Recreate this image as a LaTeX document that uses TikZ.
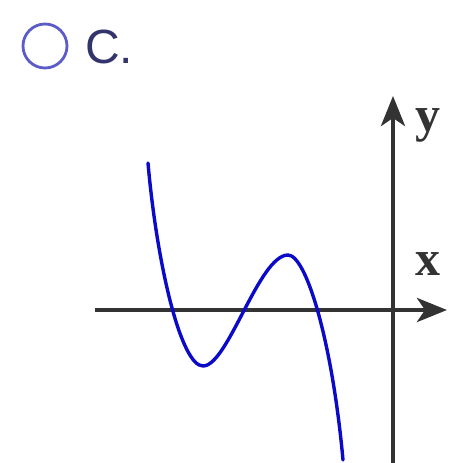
\documentclass[tikz,border=0pt]{standalone}
\usepackage{fontspec}
\setmainfont{Liberation Serif}
\newfontfamily\labelsans{Liberation Sans}
\usetikzlibrary{arrows.meta}
\definecolor{axisgray}{HTML}{333333}
\definecolor{curveblue}{HTML}{0A0AC8}
\definecolor{ringblue}{HTML}{5C5CC8}
\definecolor{letterblue}{HTML}{33336E}
\tikzset{
  axisline/.style={draw=axisgray,line width=4.5pt,-{Stealth[length=30pt,width=24pt,inset=8pt]}},
  curveline/.style={draw=curveblue,line width=3.4pt,line cap=round,line join=round},
  axislabel/.style={font=\fontsize{50}{50}\selectfont\bfseries,text=axisgray,inner sep=0pt,anchor=base},
}
\begin{document}
\begin{tikzpicture}[x=1pt,y=-1pt]
\useasboundingbox (0,0) rectangle (454,463);
% option marker
\node (ring) [circle,draw=ringblue,line width=2.8pt,minimum size=44pt,inner sep=0pt] at (45,46) {};
\node (opt) [anchor=base west,inner sep=0pt,text=letterblue,font=\fontsize{48}{48}\selectfont\labelsans] at (85,63) {C.};
% axes
\coordinate (xs) at (95,310);
\coordinate (xe) at (447,310);
\coordinate (ys) at (393,463);
\coordinate (ye) at (393,96);
\draw[axisline] (xs) -- (xe);
\draw[axisline] (ys) -- (ye);
\node (ylab) [axislabel] at (428,131) {y};
\node (xlab) [axislabel] at (428,275) {x};
% curve
\coordinate (c0) at (148,163);
\coordinate (cmin) at (203,366);
\coordinate (cmax) at (288,255);
\coordinate (c1) at (343,460);
\draw[curveline] (c0) .. controls (157,265) and (181,366) .. (cmin)
  .. controls (228,366) and (259,255) .. (cmax)
  .. controls (306,255) and (332,340) .. (c1);
\end{tikzpicture}
\end{document}
